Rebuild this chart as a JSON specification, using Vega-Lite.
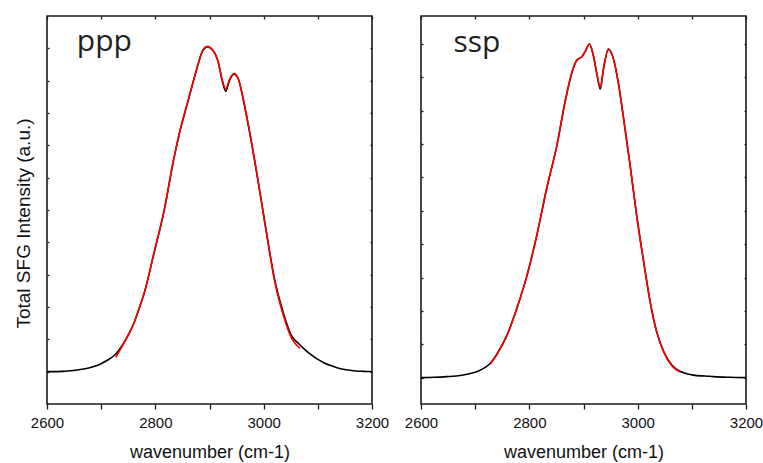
{
  "$schema": "https://vega.github.io/schema/vega-lite/v6.json",
  "padding": {"left": 13, "top": 14, "right": 0, "bottom": 0},
  "bounds": "flush",
  "spacing": 49,
  "background": "white",
  "config": {
    "view": {"stroke": "#1a1a1a", "strokeWidth": 1.6},
    "font": "Liberation Sans",
    "axis": {
      "grid": false,
      "domain": false,
      "labelFlush": false,
      "tickColor": "#1a1a1a",
      "tickWidth": 1.3,
      "labelFont": "Liberation Sans",
      "labelFontSize": 15,
      "labelColor": "#111111",
      "titleFont": "Liberation Sans",
      "titleFontSize": 18,
      "titleFontWeight": "normal",
      "titleColor": "#111111"
    }
  },
  "datasets": {
    "ppp_black": [
      {"w": 2600, "v": 1.00}, {"w": 2630, "v": 1.01}, {"w": 2650, "v": 1.04}, {"w": 2668, "v": 1.08},
      {"w": 2685, "v": 1.15}, {"w": 2699, "v": 1.24}, {"w": 2712, "v": 1.36}, {"w": 2724, "v": 1.50},
      {"w": 2742, "v": 1.90}, {"w": 2752, "v": 2.20}, {"w": 2761, "v": 2.52}, {"w": 2770, "v": 2.95},
      {"w": 2780, "v": 3.46}, {"w": 2798, "v": 4.70},
      {"w": 2817, "v": 6.04}, {"w": 2832, "v": 7.40}, {"w": 2845, "v": 8.41}, {"w": 2860, "v": 9.34},
      {"w": 2875, "v": 10.27}, {"w": 2888, "v": 10.94}, {"w": 2896, "v": 11.04}, {"w": 2906, "v": 10.94},
      {"w": 2916, "v": 10.58}, {"w": 2924, "v": 9.96}, {"w": 2930, "v": 9.67}, {"w": 2937, "v": 10.01},
      {"w": 2945, "v": 10.20}, {"w": 2953, "v": 10.06}, {"w": 2962, "v": 9.44}, {"w": 2974, "v": 8.41},
      {"w": 2990, "v": 6.86}, {"w": 3005, "v": 5.32}, {"w": 3020, "v": 3.87}, {"w": 3036, "v": 2.84},
      {"w": 3051, "v": 2.12}, {"w": 3064, "v": 1.88}, {"w": 3075, "v": 1.70}, {"w": 3088, "v": 1.52},
      {"w": 3100, "v": 1.38}, {"w": 3112, "v": 1.27}, {"w": 3125, "v": 1.18}, {"w": 3140, "v": 1.10},
      {"w": 3155, "v": 1.05}, {"w": 3170, "v": 1.02}, {"w": 3185, "v": 1.01}, {"w": 3200, "v": 1.00}
    ],
    "ppp_red": [
      {"w": 2727, "v": 1.44}, {"w": 2742, "v": 1.88}, {"w": 2752, "v": 2.19}, {"w": 2761, "v": 2.52},
      {"w": 2770, "v": 2.95}, {"w": 2780, "v": 3.46},
      {"w": 2798, "v": 4.70}, {"w": 2817, "v": 6.04}, {"w": 2832, "v": 7.42}, {"w": 2845, "v": 8.42},
      {"w": 2860, "v": 9.36}, {"w": 2875, "v": 10.28}, {"w": 2888, "v": 10.95}, {"w": 2896, "v": 11.06},
      {"w": 2906, "v": 10.95}, {"w": 2916, "v": 10.58}, {"w": 2924, "v": 10.00}, {"w": 2930, "v": 9.74},
      {"w": 2937, "v": 10.04}, {"w": 2945, "v": 10.22}, {"w": 2953, "v": 10.07}, {"w": 2962, "v": 9.46},
      {"w": 2974, "v": 8.43}, {"w": 2990, "v": 6.88}, {"w": 3005, "v": 5.30}, {"w": 3020, "v": 3.82},
      {"w": 3036, "v": 2.76}, {"w": 3051, "v": 2.05}, {"w": 3067, "v": 1.72}
    ],
    "ssp_black": [
      {"w": 2600, "v": 0.00}, {"w": 2625, "v": 0.01}, {"w": 2648, "v": 0.03}, {"w": 2665, "v": 0.05},
      {"w": 2685, "v": 0.10}, {"w": 2700, "v": 0.16}, {"w": 2710, "v": 0.23}, {"w": 2720, "v": 0.32},
      {"w": 2728, "v": 0.43}, {"w": 2740, "v": 0.70}, {"w": 2759, "v": 1.28}, {"w": 2777, "v": 2.08},
      {"w": 2796, "v": 3.08}, {"w": 2814, "v": 4.28}, {"w": 2832, "v": 5.67}, {"w": 2851, "v": 6.97},
      {"w": 2866, "v": 8.27}, {"w": 2879, "v": 9.17}, {"w": 2888, "v": 9.52}, {"w": 2897, "v": 9.62},
      {"w": 2903, "v": 9.77}, {"w": 2911, "v": 10.00}, {"w": 2918, "v": 9.67}, {"w": 2925, "v": 9.07},
      {"w": 2931, "v": 8.65}, {"w": 2937, "v": 9.27}, {"w": 2946, "v": 9.85}, {"w": 2955, "v": 9.57},
      {"w": 2965, "v": 8.77}, {"w": 2974, "v": 7.77}, {"w": 2986, "v": 6.37}, {"w": 2998, "v": 4.88},
      {"w": 3011, "v": 3.48}, {"w": 3023, "v": 2.28}, {"w": 3035, "v": 1.38}, {"w": 3048, "v": 0.78},
      {"w": 3063, "v": 0.38}, {"w": 3078, "v": 0.19}, {"w": 3095, "v": 0.10}, {"w": 3109, "v": 0.06},
      {"w": 3125, "v": 0.05}, {"w": 3140, "v": 0.03}, {"w": 3170, "v": 0.01}, {"w": 3200, "v": 0.00}
    ],
    "ssp_red": [
      {"w": 2728, "v": 0.40}, {"w": 2740, "v": 0.69}, {"w": 2759, "v": 1.28}, {"w": 2777, "v": 2.08},
      {"w": 2796, "v": 3.08}, {"w": 2814, "v": 4.28}, {"w": 2832, "v": 5.67}, {"w": 2851, "v": 6.97},
      {"w": 2866, "v": 8.27}, {"w": 2879, "v": 9.17}, {"w": 2888, "v": 9.52}, {"w": 2897, "v": 9.62},
      {"w": 2903, "v": 9.77}, {"w": 2911, "v": 10.00}, {"w": 2918, "v": 9.67}, {"w": 2925, "v": 9.09},
      {"w": 2931, "v": 8.70}, {"w": 2937, "v": 9.27}, {"w": 2946, "v": 9.83}, {"w": 2955, "v": 9.57},
      {"w": 2965, "v": 8.77}, {"w": 2974, "v": 7.77}, {"w": 2986, "v": 6.37}, {"w": 2998, "v": 4.88},
      {"w": 3011, "v": 3.48}, {"w": 3023, "v": 2.28}, {"w": 3035, "v": 1.38}, {"w": 3048, "v": 0.78},
      {"w": 3063, "v": 0.36}, {"w": 3078, "v": 0.17}
    ],
    "ppp_label": [{"w": 2655, "v": 10.91, "t": "ppp"}],
    "ssp_label": [{"w": 2660, "v": 9.75, "t": "ssp"}]
  },
  "hconcat": [
    {
      "width": 325,
      "height": 388,
      "resolve": {"axis": {"x": "independent", "y": "independent"}},
      "layer": [
        {
          "data": {"name": "ppp_black"},
          "mark": {"type": "line", "color": "#000000", "strokeWidth": 1.6, "interpolate": "monotone"},
          "encoding": {
            "x": {"field": "w", "type": "quantitative", "scale": {"domain": [2600, 3200], "nice": false, "zero": false},
              "axis": {"orient": "bottom", "title": "wavenumber (cm-1)", "values": [2600, 2700, 2800, 2900, 3000, 3100, 3200],
                "format": "d", "labelExpr": "datum.value % 200 == 0 ? datum.label : ''", "tickSize": 5, "labelPadding": 6, "titlePadding": 13}},
            "y": {"field": "v", "type": "quantitative", "scale": {"domain": [0, 12], "nice": false, "zero": false},
              "axis": {"orient": "left", "title": "Total SFG Intensity (a.u.)", "titleFontSize": 19, "values": [1, 2, 3, 4, 5, 6, 7, 8, 9, 10, 11],
                "labels": false, "tickSize": -2, "titlePadding": 13, "titleY": 207}}
          }
        },
        {
          "data": {"name": "ppp_red"},
          "mark": {"type": "line", "color": "#ff0000", "strokeWidth": 1.6, "interpolate": "monotone"},
          "encoding": {
            "x": {"field": "w", "type": "quantitative",
              "axis": {"orient": "top", "title": null, "labels": false, "values": [2600, 2700, 2800, 2900, 3000, 3100, 3200], "tickSize": -3}},
            "y": {"field": "v", "type": "quantitative",
              "axis": {"orient": "right", "title": null, "labels": false, "values": [1, 2, 3, 4, 5, 6, 7, 8, 9, 10, 11], "tickSize": -2}}
          }
        },
        {
          "data": {"name": "ppp_label"},
          "mark": {"type": "text", "font": "Open Sans", "fontSize": 30, "color": "#231f20", "align": "left", "baseline": "alphabetic"},
          "encoding": {
            "x": {"field": "w", "type": "quantitative", "axis": null},
            "y": {"field": "v", "type": "quantitative", "axis": null},
            "text": {"field": "t"}
          }
        }
      ]
    },
    {
      "width": 325,
      "height": 388,
      "resolve": {"axis": {"x": "independent", "y": "independent"}},
      "layer": [
        {
          "data": {"name": "ssp_black"},
          "mark": {"type": "line", "color": "#000000", "strokeWidth": 1.6, "interpolate": "monotone"},
          "encoding": {
            "x": {"field": "w", "type": "quantitative", "scale": {"domain": [2600, 3200], "nice": false, "zero": false},
              "axis": {"orient": "bottom", "title": "wavenumber (cm-1)", "values": [2600, 2700, 2800, 2900, 3000, 3100, 3200],
                "format": "d", "labelExpr": "datum.value % 200 == 0 ? datum.label : ''", "tickSize": 5, "labelPadding": 6, "titlePadding": 13}},
            "y": {"field": "v", "type": "quantitative", "scale": {"domain": [-0.79, 10.84], "nice": false, "zero": false},
              "axis": {"orient": "left", "title": null, "values": [0, 1, 2, 3, 4, 5, 6, 7, 8, 9, 10],
                "labels": false, "tickSize": -2}}
          }
        },
        {
          "data": {"name": "ssp_red"},
          "mark": {"type": "line", "color": "#ff0000", "strokeWidth": 1.6, "interpolate": "monotone"},
          "encoding": {
            "x": {"field": "w", "type": "quantitative",
              "axis": {"orient": "top", "title": null, "labels": false, "values": [2600, 2700, 2800, 2900, 3000, 3100, 3200], "tickSize": -3}},
            "y": {"field": "v", "type": "quantitative",
              "axis": {"orient": "right", "title": null, "labels": false, "values": [0, 1, 2, 3, 4, 5, 6, 7, 8, 9, 10], "tickSize": -2}}
          }
        },
        {
          "data": {"name": "ssp_label"},
          "mark": {"type": "text", "font": "Open Sans", "fontSize": 30, "color": "#231f20", "align": "left", "baseline": "alphabetic"},
          "encoding": {
            "x": {"field": "w", "type": "quantitative", "axis": null},
            "y": {"field": "v", "type": "quantitative", "axis": null},
            "text": {"field": "t"}
          }
        }
      ]
    }
  ]
}
